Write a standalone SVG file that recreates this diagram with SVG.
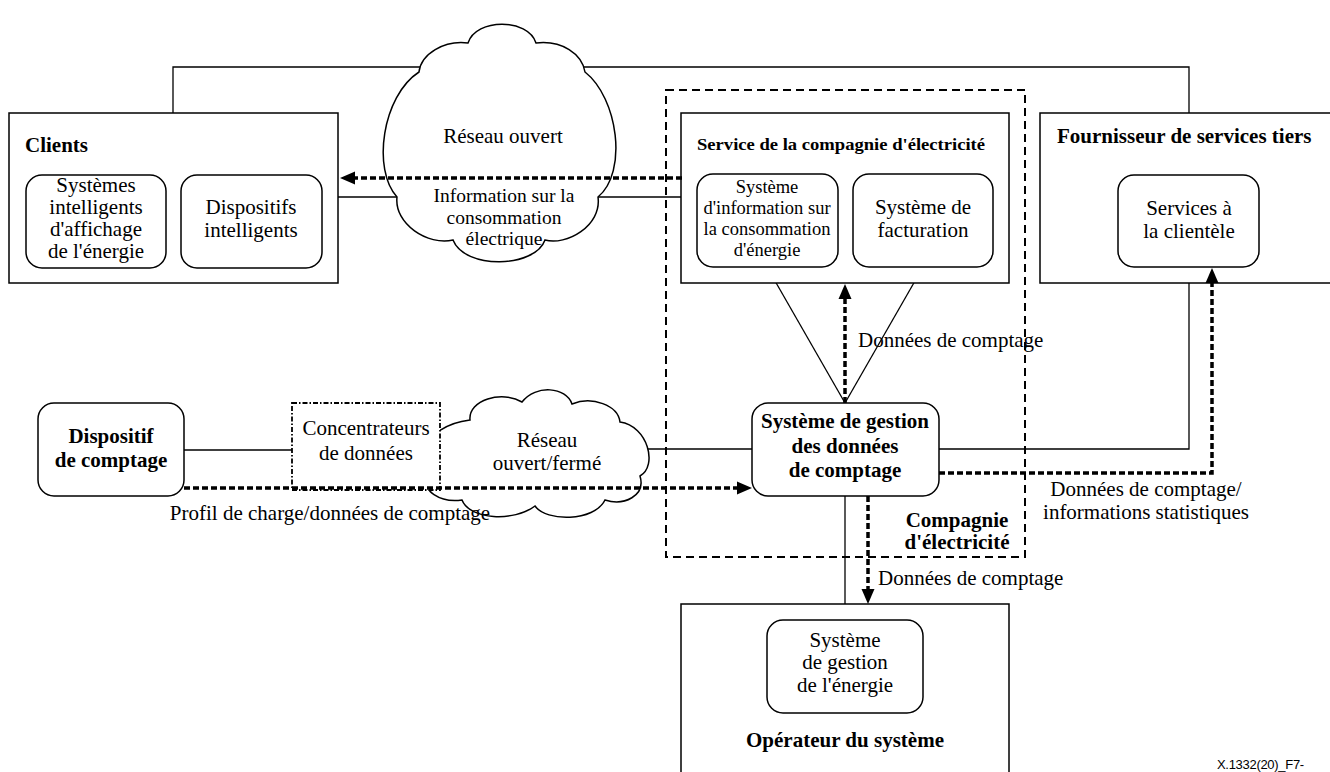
<svg xmlns="http://www.w3.org/2000/svg" width="1330" height="772" viewBox="0 0 1330 772">
<defs>
<style>
text{font-family:"Liberation Serif","Times New Roman",serif;font-size:21px;fill:#000;text-anchor:middle}
.b{font-weight:bold}
.l{text-anchor:start}
.box{fill:#fff;stroke:#000;stroke-width:1.5}
.rbox{fill:#fff;stroke:#000;stroke-width:1.5}
.ln{fill:none;stroke:#000;stroke-width:1.3}
.flow{fill:none;stroke:#000;stroke-width:3.5;stroke-dasharray:6 3}
.grp{fill:none;stroke:#000;stroke-width:2;stroke-dasharray:8 5}
.conc{fill:#fff;stroke:#000;stroke-width:1.8;stroke-dasharray:5 2 1.5 2}
.cloud{fill:#fff;stroke:#000;stroke-width:1.5}
</style>
<marker id="ah" markerUnits="userSpaceOnUse" markerWidth="15" markerHeight="14" refX="0" refY="7" orient="auto">
<path d="M0,0.5 L15,7 L0,13.5 z" fill="#000"/>
</marker>
</defs>
<rect width="1330" height="772" fill="#fff"/>

<g id="connectors">
<polyline class="ln" points="173,113 173,67 1189,67 1189,113"/>
<line class="ln" x1="338" y1="197" x2="682" y2="197"/>
<line class="ln" x1="184" y1="450" x2="292" y2="450"/>
<line class="ln" x1="620" y1="449" x2="752" y2="449"/>
<polyline class="ln" points="939,449 1189,449 1189,283"/>
<line class="ln" x1="767" y1="267" x2="845" y2="403"/>
<line class="ln" x1="923" y1="267" x2="845" y2="403"/>
<line class="ln" x1="845" y1="496" x2="845" y2="620"/>
</g>

<g id="utility-company">
<rect class="grp" x="666" y="90" width="359" height="467"/>
<text class="b" x="957" y="527">Compagnie</text>
<text class="b" x="957" y="549">d'électricité</text>
</g>

<g id="cloud-open">
<path class="cloud" d="M468,43 C476,18 528,18 536,43 C562,40 582,54 585,72 C618,98 628,172 598,197 C602,226 566,246 545,240 C535,268 465,270 453,240 C428,246 394,224 397,197 C372,170 382,96 419,72 C421,54 444,40 468,43 Z"/>
<text x="503" y="143">Réseau ouvert</text>
</g>

<g id="clients">
<rect class="box" x="9" y="113" width="329" height="170"/>
<text class="b l" x="25" y="152">Clients</text>
</g>
<g id="smart-display">
<rect class="rbox" x="26" y="175" width="140" height="93" rx="16"/>
<text x="96" y="192">Systèmes</text>
<text x="96" y="214">intelligents</text>
<text x="96" y="236">d'affichage</text>
<text x="96" y="258">de l'énergie</text>
</g>
<g id="smart-devices">
<rect class="rbox" x="181" y="175" width="141" height="93" rx="16"/>
<text x="251" y="214">Dispositifs</text>
<text x="251" y="237">intelligents</text>
</g>

<g id="utility-service">
<rect class="box" x="681" y="113" width="328" height="170"/>
<text class="b l" x="697" y="150" style="font-size:17.5px" textLength="288" lengthAdjust="spacingAndGlyphs">Service de la compagnie d'électricité</text>
</g>
<g id="energy-info">
<rect class="rbox" x="697" y="174" width="141" height="93" rx="16"/>
<text x="767" y="193" style="font-size:18.5px">Système</text>
<text x="767" y="214" style="font-size:18.5px">d'information sur</text>
<text x="767" y="235" style="font-size:18.5px">la consommation</text>
<text x="767" y="256" style="font-size:18.5px">d'énergie</text>
</g>
<g id="billing">
<rect class="rbox" x="853" y="174" width="140" height="93" rx="16"/>
<text x="923" y="214">Système de</text>
<text x="923" y="237">facturation</text>
</g>

<g id="third-party">
<rect class="box" x="1040" y="113" width="320" height="170"/>
<text class="b l" x="1057" y="143">Fournisseur de services tiers</text>
</g>
<g id="customer-services">
<rect class="rbox" x="1118" y="175" width="141" height="92" rx="16"/>
<text x="1189" y="215">Services à</text>
<text x="1189" y="238">la clientèle</text>
</g>

<g id="meter">
<rect class="rbox" x="38" y="403" width="146" height="93" rx="16"/>
<text class="b" x="111" y="443">Dispositif</text>
<text class="b" x="111" y="467">de comptage</text>
</g>

<g id="cloud-mixed">
<path class="cloud" d="M470,420 C468,400 502,390 522,402 C536,384 566,387 572,404 C592,396 618,405 620,422 C648,426 658,466 640,476 C646,496 624,506 605,500 C594,522 546,522 535,506 C514,522 470,520 462,500 C440,503 420,490 430,478 C414,468 420,426 470,420 Z"/>
<text x="547" y="447">Réseau</text>
<text x="547" y="470">ouvert/fermé</text>
</g>

<g id="concentrators">
<rect class="conc" x="292" y="403" width="148" height="87"/>
<text x="366" y="435">Concentrateurs</text>
<text x="366" y="460">de données</text>
</g>

<g id="mdms">
<rect class="rbox" x="752" y="403" width="187" height="93" rx="16"/>
<text class="b" x="845" y="428">Système de gestion</text>
<text class="b" x="845" y="453">des données</text>
<text class="b" x="845" y="477">de comptage</text>
</g>

<g id="operator">
<rect class="box" x="681" y="604" width="328" height="200"/>
<text class="b" x="845" y="747">Opérateur du système</text>
</g>
<g id="ems">
<rect class="rbox" x="767" y="620" width="156" height="93" rx="16"/>
<text x="845" y="647">Système</text>
<text x="845" y="669">de gestion</text>
<text x="845" y="692">de l'énergie</text>
</g>

<g id="flows">
<line class="flow" x1="682" y1="178" x2="355" y2="178" marker-end="url(#ah)"/>
<line class="flow" x1="184" y1="488" x2="737" y2="488" marker-end="url(#ah)"/>
<line class="flow" x1="845" y1="403" x2="845" y2="299" marker-end="url(#ah)"/>
<polyline class="flow" points="939,473 1212,473 1212,283" marker-end="url(#ah)"/>
<line class="flow" x1="868" y1="496" x2="868" y2="589" marker-end="url(#ah)"/>
</g>

<g id="labels">
<text x="504" y="202" style="font-size:19.5px">Information sur la</text>
<text x="504" y="224" style="font-size:19.5px">consommation</text>
<text x="504" y="245" style="font-size:19.5px">électrique</text>
<text class="l" x="858" y="347">Données de comptage</text>
<text x="330" y="520">Profil de charge/données de comptage</text>
<text x="1146" y="496">Données de comptage/</text>
<text x="1146" y="519">informations statistiques</text>
<text class="l" x="878" y="585">Données de comptage</text>
<text class="l" x="1217" y="769" style="font-family:'Liberation Sans',Arial,sans-serif;font-size:13px;letter-spacing:-0.3px">X.1332(20)_F7-</text>
</g>
</svg>
